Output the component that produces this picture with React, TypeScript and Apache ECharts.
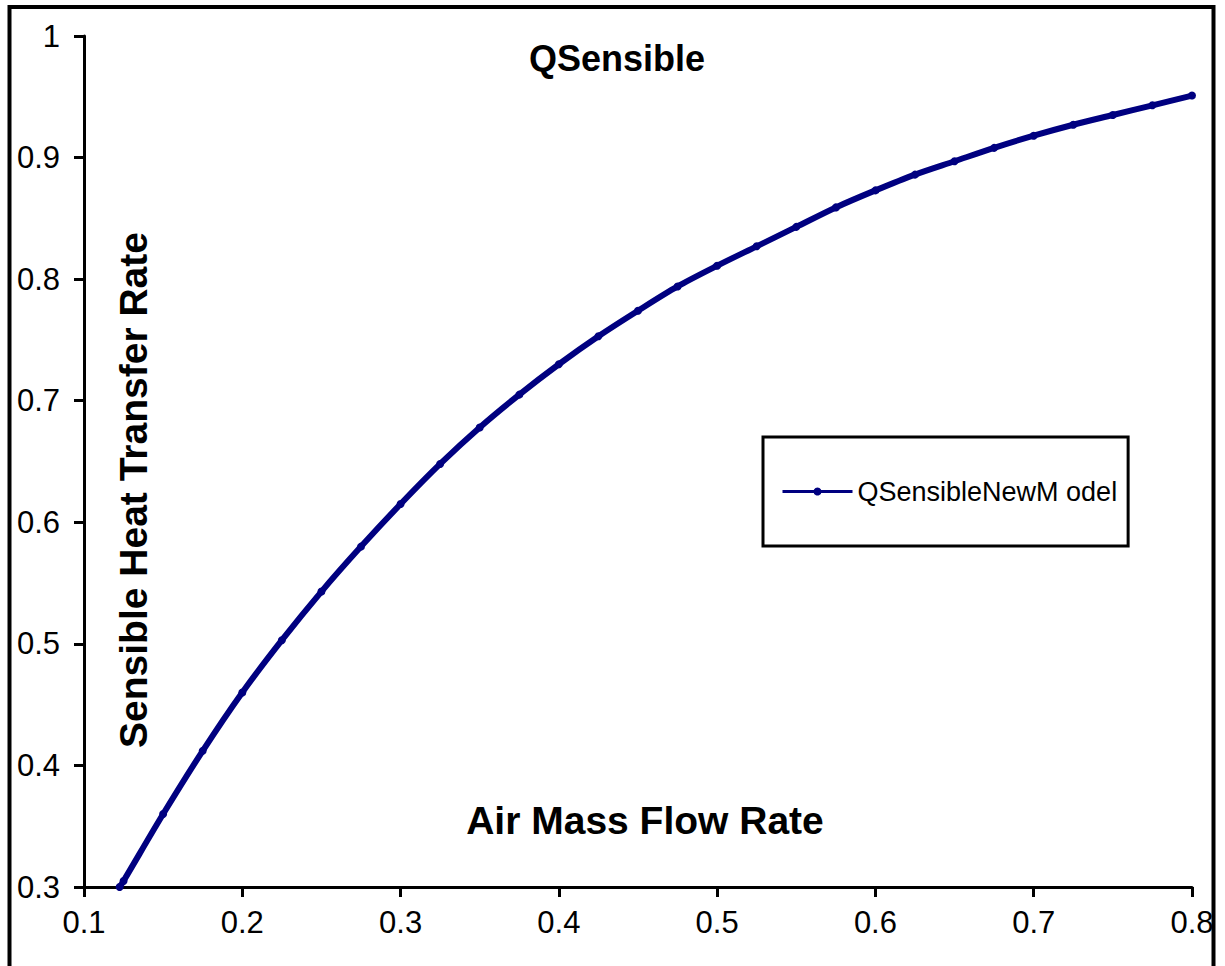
import React, { useEffect, useRef } from "react";
import * as echarts from "echarts";

const chartTitle = "QSensible";
const xAxisTitle = "Air Mass Flow Rate";
const yAxisTitle = "Sensible Heat Transfer Rate";
const seriesName = "QSensibleNewM odel";

const airMassFlow = [
  0.1225, 0.125, 0.15, 0.175, 0.2, 0.225, 0.25, 0.275, 0.3, 0.325, 0.35, 0.375, 0.4,
  0.425, 0.45, 0.475, 0.5, 0.525, 0.55, 0.575, 0.6, 0.625, 0.65, 0.675, 0.7, 0.725,
  0.75, 0.775, 0.8,
];
const qSensible = [
  0.3, 0.305, 0.36, 0.412, 0.46, 0.503, 0.543, 0.58, 0.615, 0.648, 0.678, 0.705, 0.73,
  0.753, 0.774, 0.794, 0.811, 0.827, 0.843, 0.859, 0.873, 0.886, 0.897, 0.908, 0.918,
  0.927, 0.935, 0.943, 0.951,
];

const FONT = "'Liberation Sans', Arial, sans-serif";
const NAVY = "#000080";

export default function App() {
  const ref = useRef<HTMLDivElement>(null);

  useEffect(() => {
    if (!ref.current) return;
    const chart = echarts.init(ref.current, undefined, { renderer: "svg" });
    const data = airMassFlow.map((x, i) => [x, qSensible[i]]);
    chart.setOption({
      animation: false,
      backgroundColor: "#ffffff",
      grid: { left: 84, top: 36, width: 1108, height: 851, containLabel: false },
      xAxis: {
        type: "value",
        min: 0.1,
        max: 0.8,
        interval: 0.1,
        splitLine: { show: false },
        axisLine: { show: true, onZero: false, lineStyle: { color: "#000", width: 3 } },
        axisTick: { show: true, length: 10, lineStyle: { color: "#000", width: 3 } },
        axisLabel: { color: "#000", fontSize: 31, fontFamily: FONT, margin: 20 },
      },
      yAxis: {
        type: "value",
        min: 0.3,
        max: 1,
        interval: 0.1,
        splitLine: { show: false },
        axisLine: { show: true, onZero: false, lineStyle: { color: "#000", width: 3 } },
        axisTick: { show: true, length: 10, lineStyle: { color: "#000", width: 3 } },
        axisLabel: { color: "#000", fontSize: 31, fontFamily: FONT, margin: 24 },
      },
      legend: {
        left: 763,
        top: 437,
        orient: "vertical",
        borderColor: "#000",
        borderWidth: 3,
        padding: [41, 11, 41, 18],
        itemWidth: 70,
        itemHeight: 10,
        lineStyle: { width: 3 },
        textStyle: { color: "#000", fontSize: 27, fontFamily: FONT },
        data: [seriesName],
      },
      graphic: [
        {
          type: "rect",
          silent: true,
          z: -1,
          shape: { x: 9.5, y: 7, width: 1204, height: 1000 },
          style: { fill: "none", stroke: "#000", lineWidth: 4 },
        },
        {
          type: "text",
          x: 617,
          y: 58,
          style: {
            text: chartTitle,
            fill: "#000",
            font: `bold 36px ${FONT}`,
            textAlign: "center",
            textVerticalAlign: "middle",
          },
        },
        {
          type: "text",
          x: 645,
          y: 820,
          style: {
            text: xAxisTitle,
            fill: "#000",
            font: `bold 39px ${FONT}`,
            textAlign: "center",
            textVerticalAlign: "middle",
          },
        },
        {
          type: "text",
          x: 133,
          y: 490,
          rotation: Math.PI / 2,
          style: {
            text: yAxisTitle,
            fill: "#000",
            font: `bold 39px ${FONT}`,
            textAlign: "center",
            textVerticalAlign: "middle",
          },
        },
      ],
      series: [
        {
          name: seriesName,
          type: "line",
          data,
          smooth: 0.3,
          symbol: "circle",
          symbolSize: 8,
          showSymbol: true,
          lineStyle: { color: NAVY, width: 6 },
          itemStyle: { color: NAVY },
        },
      ],
    });
    return () => chart.dispose();
  }, []);

  return (
    <div
      ref={ref}
      style={{ position: "absolute", left: 0, top: 0, width: 1225, height: 966 }}
    />
  );
}
